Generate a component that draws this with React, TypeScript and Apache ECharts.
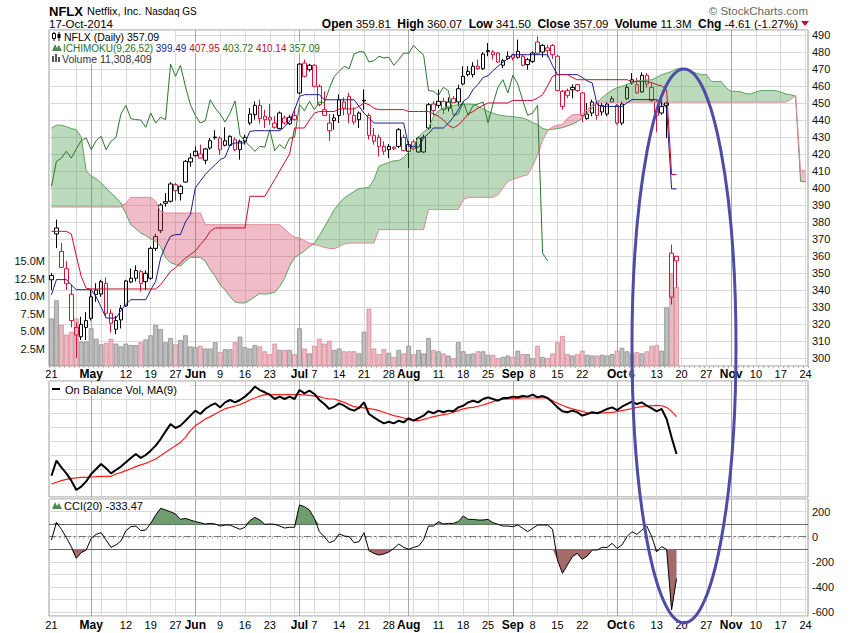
import React, { useEffect, useRef } from 'react';
import * as echarts from 'echarts';

// ---------- trading days (categories) ----------
const aprDays = [21, 22, 23, 24, 25, 28, 29, 30];
const mayDays = [1, 2, 5, 6, 7, 8, 9, 12, 13, 14, 15, 16, 19, 20, 21, 22, 23, 27, 28, 29, 30];
const junDays = [2, 3, 4, 5, 6, 9, 10, 11, 12, 13, 16, 17, 18, 19, 20, 23, 24, 25, 26, 27, 30];
const julDays = [1, 2, 3, 7, 8, 9, 10, 11, 14, 15, 16, 17, 18, 21, 22, 23, 24, 25, 28, 29, 30, 31];
const augDays = [1, 4, 5, 6, 7, 8, 11, 12, 13, 14, 15, 18, 19, 20, 21, 22, 25, 26, 27, 28, 29];
const sepDays = [2, 3, 4, 5, 8, 9, 10, 11, 12, 15, 16, 17, 18, 19, 22, 23, 24, 25, 26, 29, 30];
const octDays = [1, 2, 3, 6, 7, 8, 9, 10, 13, 14, 15, 16, 17, 20, 21, 22, 23, 24, 27, 28, 29, 30, 31];
const novDays = [3, 4, 5, 6, 7, 10, 11, 12, 13, 14, 17, 18, 19, 20, 21, 24];

const tickLabels: [string, string][] = [
  ['2014-04-21', '21'], ['2014-05-01', 'May'], ['2014-05-12', '12'], ['2014-05-19', '19'], ['2014-05-27', '27'],
  ['2014-06-02', 'Jun'], ['2014-06-09', '9'], ['2014-06-16', '16'], ['2014-06-23', '23'],
  ['2014-07-01', 'Jul'], ['2014-07-07', '7'], ['2014-07-14', '14'], ['2014-07-21', '21'], ['2014-07-28', '28'],
  ['2014-08-01', 'Aug'], ['2014-08-11', '11'], ['2014-08-18', '18'], ['2014-08-25', '25'],
  ['2014-09-02', 'Sep'], ['2014-09-08', '8'], ['2014-09-15', '15'], ['2014-09-22', '22'],
  ['2014-10-01', 'Oct'], ['2014-10-06', '6'], ['2014-10-13', '13'], ['2014-10-20', '20'], ['2014-10-27', '27'],
  ['2014-11-03', 'Nov'], ['2014-11-10', '10'], ['2014-11-17', '17'], ['2014-11-24', '24'],
];
const monthNames = ['May', 'Jun', 'Jul', 'Aug', 'Sep', 'Oct', 'Nov'];

// ---------- price (OHLC), Apr 21 .. Oct 17 2014 ----------
const opens = [
  346, 376.5, 362.7, 352.5, 337.5, 318, 312.5, 318, 323.3, 337.4,
  337.6, 343.9, 326.3, 316.9, 322.4, 330.6, 344.7, 346.9, 350.8, 344.9,
  346.9, 364.5, 374.9, 391, 392.2, 402, 396.7, 403.5, 415.3, 419,
  420, 416.3, 423.5, 430, 429.4, 425.1, 425.1, 428.4, 422.5, 427.5,
  438.2, 443.1, 448.6, 442.2, 441.6, 438.2, 434.9, 441.2, 437.8, 442.7,
  455.9, 473.5, 469.6, 472.2, 459.8, 446.1, 433.7, 441.2, 442.7, 450.6,
  453.9, 442.7, 440.2, 451.6, 442.7, 431, 429.8, 424.5, 422.5, 423.1,
  424.5, 429.8, 421.6, 427.1, 421.2, 421.2, 435.3, 449.4, 448.6, 451,
  447, 452.5, 450.6, 461.2, 466.7, 466.7, 471.6, 470.2, 480.8, 478.4,
  479.4, 472.2, 476.1, 478.4, 480.4, 477.5, 472.6, 474.5, 485.9, 480,
  482.4, 483.9, 477.5, 448, 457.3, 457.8, 460.8, 455.9, 440.8, 444.1,
  450, 444.7, 443.5, 452.5, 448.6, 438.2, 452.5, 461.8, 460.8, 456.5,
  466.3, 459.2, 450.6, 448, 450, 335.8, 359.81,
];
const highs = [
  350, 381.4, 367.6, 357, 343, 321, 324.3, 327, 340, 344,
  346, 347.4, 328.6, 324.7, 331.2, 346, 352.7, 354.5, 351.7, 351.5,
  365.5, 373, 391, 397, 403.5, 403, 402, 416.5, 420.5, 424.5,
  425.5, 423.5, 429.4, 434, 430.4, 435.7, 431, 429.8, 428.4, 431.4,
  447, 451, 452, 446, 449.4, 442.2, 445, 442.7, 443, 447,
  473.5, 475.5, 473, 472.8, 461, 456.9, 443.5, 443.5, 455, 453.3,
  455.9, 447.4, 445, 458, 444, 435.3, 431.4, 427.5, 425.9, 424.6,
  435.3, 431.4, 427.5, 428.5, 430.4, 431.4, 450, 451, 457.8, 453,
  453.3, 454, 460.8, 471.6, 471.6, 474, 475.5, 480, 485.3, 481,
  480, 476, 480.4, 479, 487.3, 478.4, 476.5, 480.4, 489.2, 484.7,
  484.4, 484.7, 478.4, 457.8, 458.5, 461, 461.2, 456.5, 450, 452,
  451, 450, 450.6, 454, 449.4, 451, 461, 467.6, 464.7, 468,
  467.6, 461.8, 452, 452, 450.5, 366.7, 360.07,
];
const lows = [
  340, 364.7, 352.9, 340, 318, 300, 310.6, 310.6, 322, 333,
  336, 324.3, 314.9, 314, 317.4, 330, 344, 345, 339, 340,
  346, 363, 373.5, 389, 391.5, 392.6, 392.6, 403, 412.5, 418.5,
  417.3, 414, 422.5, 428.5, 419.6, 424.5, 424.5, 421.6, 416.7, 425.5,
  437, 440.2, 438, 435.3, 437.3, 434.9, 434.5, 437.3, 437, 439.5,
  455, 465, 468.5, 459.2, 448, 442.2, 427.8, 434.3, 438.2, 442.7,
  438.2, 437.3, 435.3, 446.1, 428.5, 425.5, 418.6, 419.5, 417.6, 422.2,
  423.5, 421.6, 411.8, 422, 420.6, 420.6, 434.3, 442.7, 447, 443.5,
  445, 450, 448, 460.4, 465.7, 465, 469.5, 469.5, 477.5, 475.5,
  473.5, 470.5, 475.5, 475, 476.1, 471.6, 469.6, 473.5, 478.8, 476.9,
  476.9, 476, 456.9, 446, 452.9, 452.9, 456.5, 438.8, 440.2, 442.2,
  440.2, 442.7, 442.2, 450, 437.3, 436.9, 452, 460.8, 455.3, 455.9,
  459, 450.6, 432.9, 443.1, 429.4, 331.4, 341.5,
];
const closes = [
  348.5, 373, 353.3, 343.7, 322, 313.5, 319.8, 322, 336, 340,
  344.9, 326.3, 320.4, 322, 329.2, 345.3, 346.9, 351.4, 343.9, 349.8,
  364.5, 371.4, 390, 392, 402.4, 398.4, 401, 415.7, 417.6, 421.6,
  417.6, 423, 427.8, 429.5, 422.5, 427.8, 430.4, 422.5, 427.5, 429.8,
  443.5, 448.6, 440.8, 440.2, 440, 435.7, 444.1, 438.2, 441.6, 440.2,
  472.9, 465.7, 472.2, 459.8, 449, 442.7, 438.2, 439.6, 451.9, 447,
  443.5, 438.8, 444.1, 451.2, 431, 427.5, 424.5, 421.6, 424.5, 424,
  434.3, 422, 425.5, 423.1, 429.4, 429.8, 449, 445.5, 451, 446.1,
  450.6, 450.2, 458.4, 465.7, 468.6, 471.6, 470.2, 478.8, 480.2, 480,
  474.1, 474.9, 477.5, 476.5, 476.9, 472.2, 475.5, 479.4, 479.2, 483.9,
  480.8, 478.4, 457.3, 456.9, 454.5, 459.2, 457.3, 442.7, 443.5, 450.6,
  442.7, 448.6, 449.4, 450.6, 438.2, 449.4, 459.2, 463.7, 455.9, 466.3,
  461.2, 451.4, 442.7, 444.1, 448.6, 361.7, 357.09,
];
// volume, millions of shares
const volumes = [
  6.8, 9.4, 5.9, 4.5, 4.9, 6.8, 3.5, 3.5, 5.4, 3.9,
  3.1, 3.3, 3.9, 3.2, 2.8, 3.2, 3.0, 3.0, 3.4, 3.8,
  4.4, 5.9, 5.3, 3.4, 4.0, 3.1, 3.7, 4.4, 2.8, 2.7,
  2.9, 2.5, 2.5, 3.4, 2.0, 2.4, 2.4, 3.4, 4.2, 2.7,
  2.5, 3.0, 2.8, 2.1, 1.7, 3.2, 2.3, 2.3, 2.3, 1.7,
  5.4, 2.5, 1.8, 2.9, 3.9, 3.2, 3.6, 2.3, 2.5, 2.1,
  2.1, 2.1, 1.8, 4.9, 8.2, 2.5, 1.7, 2.4, 1.9, 1.3,
  2.3, 1.8, 2.9, 1.7, 2.3, 1.8, 4.0, 2.3, 2.1, 1.8,
  1.5, 1.1, 3.4, 2.1, 1.7, 1.8, 2.1, 2.1, 1.6, 1.6,
  1.1, 1.3, 1.5, 1.3, 2.2, 1.7, 1.7, 1.1, 2.9, 1.3,
  1.1, 1.8, 3.4, 4.3, 1.7, 1.5, 1.7, 2.2, 1.6, 1.5,
  1.5, 1.6, 1.5, 1.7, 2.2, 2.6, 2.1, 1.8, 2.0, 1.8,
  2.1, 2.9, 3.0, 2.2, 8.4, 13.3, 11.3,
];

// ---------- Ichimoku (9,26,52) ----------
const tenkan = [
  337.2, 346.1, 346.1, 346.1, 343, 340.2, 340.2, 340.2, 340.2, 336,
  330, 323.5, 323.5, 323.5, 328, 331.5, 334.3, 334.3, 334.3, 334.3,
  340, 345.1, 358.8, 366, 371.6, 372.6, 372.6, 380, 384.3, 400,
  404, 407.9, 411, 413.7, 416.7, 418, 425.5, 426.5, 426.5, 426.5,
  433.3, 433.7, 433.7, 433.7, 433.7, 433.7, 433.7, 436, 439.2, 446,
  453.9, 454.9, 454.9, 454.9, 454.9, 451.9, 451.9, 451.9, 451.9, 451.9,
  451.9, 451.9, 448, 444.1, 441, 438.2, 438.2, 438.2, 438.2, 438.2,
  438.2, 438.2, 424.5, 424.5, 423.9, 429.4, 432, 435.3, 435.3, 435.3,
  438, 441.6, 446, 451, 453, 458, 461, 465, 466, 469,
  471.6, 474, 476, 478.4, 478.4, 478.4, 478.4, 478.4, 478.4, 478.4,
  478.4, 472, 466.7, 466.7, 466.7, 466.7, 466.7, 465, 463, 461.8,
  449, 448, 448, 448, 448, 448, 450, 452, 452, 452,
  452, 452, 452, 450, 447, 399.5, 399.49,
];
const kijun = [
  374.5, 374.5, 374.5, 374.5, 373, 360, 348, 341, 340.6, 340.6,
  340.6, 340.6, 340.6, 340.6, 340.6, 340.6, 340.6, 340.6, 340.6, 340.6,
  340.6, 340.6, 343.1, 347, 351, 353, 356, 358.8, 360.8, 363,
  366.7, 370, 374.5, 376.5, 376.5, 376.5, 376.5, 376.5, 376.5, 376.5,
  395.1, 395.1, 395.1, 395.1, 400, 405, 410, 415, 420, 435.3,
  435.3, 435.3, 440, 444.1, 445, 445, 445, 445, 446.5, 446.5,
  446.5, 446.5, 448, 450, 449, 447, 446.1, 446.1, 446.1, 446.1,
  446.1, 446.1, 445, 445, 445, 445, 445, 443.5, 442.2, 440,
  437, 435.3, 437, 440, 443.5, 445, 447, 448.6, 450, 450,
  450, 450, 450, 451.5, 451.5, 451.5, 451.5, 451.5, 453, 454.9,
  460, 465.7, 466.7, 466.7, 466.7, 465, 463.7, 463.7, 463.7, 463.7,
  463.7, 463.7, 463.7, 463.7, 463.7, 463.7, 463.7, 462.7, 462.7, 462.7,
  462.7, 462, 460.8, 460, 457.8, 407.95, 407.95,
];
// Senkou spans, plotted 26 periods ahead (Apr 21 .. Nov 24)
const senkouA = [
  435.3, 436.9, 437, 436, 435, 434.3, 430, 410, 407, 405.5,
  403, 400, 397, 394.5, 391, 385, 378.4, 376, 373.5, 372,
  370, 368.6, 365.7, 359, 356, 355, 354, 357, 359.2, 359.2,
  359.2, 356.9, 352, 348, 343, 340, 336, 333, 332.4, 332.4,
  334, 336, 338, 337.5, 338, 338.5, 342, 347, 354, 359,
  361, 363, 365.5, 367.6, 372, 377, 382, 387.3, 391, 394.1,
  396, 398, 399.6, 400, 400.3, 405, 412.7, 414, 415, 416,
  416.1, 418, 421, 425, 430, 433, 435.3, 442, 445.5, 447,
  448, 448.5, 449, 449.2, 449.4, 449.2, 448, 446.5, 445, 444,
  443, 442.5, 442.2, 442, 441.5, 441.2, 440, 438.5, 437.3, 435,
  434.3, 434.5, 435, 435.5, 436.5, 437.5, 439, 441, 444, 447,
  450.5, 453, 455.5, 457.5, 459, 459.8, 461, 462, 463, 463.3,
  463.5, 463.7, 465, 466.7, 467.5, 468.6, 470, 470.6, 469.5, 468.6,
  467.5, 466.7, 466.7, 462.7, 462.7, 462.7, 459, 456.9, 456.9, 456.5,
  455.5, 455.3, 456.5, 457.3, 457.3, 457.3, 457.3, 456.5, 455.3, 454.9,
  453.9, 403.9, 403.72,
];
const senkouB = [
  388.8, 388.8, 388.8, 388.8, 388.8, 388.8, 388.8, 388.8, 388.8, 388.8,
  388.8, 388.8, 388.8, 388.8, 388.8, 391, 394.5, 394.5, 394.5, 394.5,
  394.5, 392.2, 386, 385.3, 385.3, 385.3, 385.3, 385.3, 385.3, 385.3,
  385.3, 378.4, 378.4, 378.4, 378.4, 378.4, 378.4, 378.4, 378.4, 378.4,
  378.4, 378.4, 378.4, 378.4, 378.4, 378.4, 378.4, 376, 373, 371,
  370.6, 369, 367.5, 366.7, 366, 365, 364.5, 364.3, 365.5, 367.1,
  367.6, 367.6, 367.6, 367.6, 367.6, 367.6, 375.5, 375.5, 375.5, 375.5,
  375.5, 375.5, 375.5, 375.5, 375.5, 375.5, 387.3, 387.3, 387.3, 387.3,
  387.3, 387.3, 387.3, 393.1, 394.5, 394.5, 394.5, 394.5, 394.5, 394.5,
  396.1, 400, 403.9, 405, 406, 407, 407.8, 413, 419.6, 428,
  433.5, 436, 437, 437.3, 441, 443.1, 443.1, 443.5, 446, 449,
  450.5, 450.5, 450.5, 450.5, 450.5, 450.5, 450.5, 450.5, 450.5, 450.5,
  450.5, 450.5, 450.5, 450.5, 450.5, 450.5, 450.5, 450.5, 450.5, 450.5,
  450.5, 450.5, 450.5, 450.5, 450.5, 450.5, 450.5, 450.5, 450.5, 450.5,
  450.5, 450.5, 450.5, 450.5, 450.5, 450.5, 450.5, 450.5, 450.5, 452,
  454.5, 410.1, 410.14,
];

// ---------- On Balance Volume (millions, relative) and its MA(9) ----------
const obv = [
  15.2, 26.0, 21.2, 16.9, 11.7, 5.0, 7.4, 11.2, 16.4, 20.0,
  23.6, 20.5, 16.9, 19.3, 21.7, 24.8, 27.9, 30.7, 27.9, 30.0,
  33.1, 36.7, 41.4, 46.9, 52.1, 49.3, 51.0, 54.5, 58.1, 61.7,
  59.3, 62.9, 65.2, 66.9, 64.0, 67.6, 69.3, 67.6, 69.3, 71.7,
  74.8, 78.8, 76.4, 74.8, 73.1, 70.0, 71.7, 70.0, 71.7, 70.0,
  76.4, 74.0, 76.0, 73.6, 69.3, 66.4, 62.9, 64.5, 66.9, 65.2,
  62.9, 61.7, 63.6, 67.6, 59.3, 56.9, 54.5, 52.6, 53.8, 52.6,
  54.5, 53.3, 56.2, 54.5, 56.4, 58.1, 61.2, 59.8, 61.7, 60.5,
  61.7, 61.2, 64.0, 65.2, 67.6, 68.8, 67.6, 70.0, 71.2, 70.0,
  68.8, 70.7, 70.7, 71.7, 71.2, 72.1, 71.7, 73.1, 71.2, 72.1,
  70.7, 67.6, 64.0, 61.2, 60.5, 61.7, 60.5, 58.1, 59.3, 60.5,
  59.8, 61.2, 62.9, 64.0, 62.1, 64.5, 66.4, 68.1, 66.4, 67.6,
  65.2, 63.3, 61.2, 62.9, 55.7, 42.6, 30.7,
];
const obvMA = [
  9.3, 10.5, 11.7, 12.6, 13.3, 13.6, 14.0, 14.0, 14.3, 14.5,
  14.8, 14.8, 14.8, 16.4, 17.4, 18.8, 20.2, 21.7, 22.9, 24.0,
  25.5, 27.1, 29.5, 31.9, 34.3, 36.7, 39.0, 42.6, 47.4, 51.0,
  53.3, 55.7, 57.4, 59.3, 61.2, 63.1, 64.0, 65.0, 66.0, 67.6,
  69.3, 70.7, 72.1, 73.1, 73.1, 73.1, 73.1, 73.1, 73.1, 73.1,
  73.1, 72.9, 72.6, 72.1, 71.7, 70.7, 70.0, 70.0, 68.8, 67.6,
  66.0, 64.5, 64.0, 63.6, 63.1, 62.6, 61.7, 60.5, 59.3, 58.1,
  57.4, 56.4, 55.5, 54.5, 54.5, 55.5, 56.4, 57.4, 58.1, 58.8,
  59.3, 60.5, 61.7, 62.9, 63.6, 64.0, 64.8, 65.7, 66.9, 68.1,
  69.3, 69.8, 70.0, 70.2, 70.5, 70.7, 70.7, 70.7, 70.7, 70.7,
  70.7, 68.8, 66.9, 65.5, 64.0, 62.9, 62.1, 61.2, 60.2, 59.8,
  59.8, 60.0, 60.2, 60.5, 61.0, 61.7, 62.4, 63.1, 64.0, 64.5,
  65.0, 65.2, 65.5, 65.2, 64.0, 61.2, 57.4,
];

// ---------- CCI(20) ----------
const cci = [
  -26, 114, 59, -8, -79, -172, -127, -106, -13, 19,
  32, -26, -85, -66, -34, 48, 80, 85, 48, 53,
  106, 173, 226, 213, 199, 181, 138, 146, 133, 120,
  112, 101, 106, 101, 85, 93, 93, 75, 59, 75,
  128, 154, 133, 99, 101, 99, 85, 69, 75, 75,
  253, 239, 213, 146, 40, 0, -48, -32, 22, 6,
  0, -48, -40, 32, -111, -133, -146, -138, -122, -93,
  -58, -85, -101, -85, -74, -26, 85, 85, 120, 101,
  106, 106, 120, 165, 138, 138, 133, 133, 138, 112,
  99, 85, 85, 80, 93, 67, 40, 67, 93, 93,
  93, 59, -186, -292, -226, -159, -133, -180, -154, -106,
  -106, -85, -85, -53, -93, -66, 0, 40, 19, 53,
  85, 0, -119, -79, -101, -584, -333.47,
];

// ---------- rendering ----------
const F = '"Liberation Sans", Arial, sans-serif';
const RED = '#d2143c';
const BLACK = '#000000';

const categories: string[] = [];
([
  ['2014-04', aprDays], ['2014-05', mayDays], ['2014-06', junDays], ['2014-07', julDays],
  ['2014-08', augDays], ['2014-09', sepDays], ['2014-10', octDays], ['2014-11', novDays],
] as [string, number[]][]).forEach(([m, days]) =>
  days.forEach((d) => categories.push(`${m}-${String(d).padStart(2, '0')}`))
);

const tickMap = new Map<string, string>(tickLabels);

const weekStarts: string[] = [];
const monthStarts: string[] = [];
categories.forEach((c, i) => {
  if (i === 0) return;
  const prev = categories[i - 1];
  if (c.slice(0, 7) !== prev.slice(0, 7)) {
    monthStarts.push(c);
    return;
  }
  const d = new Date(c + 'T00:00:00Z').getUTCDay();
  const p = new Date(prev + 'T00:00:00Z').getUTCDay();
  if (d <= p) weekStarts.push(c);
});

const verticalLines = () => [
  ...weekStarts.map((c) => ({ xAxis: c, lineStyle: { color: '#dadada', width: 1, type: 'solid' } })),
  ...monthStarts.map((c) => ({ xAxis: c, lineStyle: { color: '#a6a6a6', width: 1, type: 'solid' } })),
];
const markBase = {
  silent: true,
  symbol: ['none', 'none'],
  label: { show: false },
  z: 1,
  animation: false,
  emphasis: { disabled: true },
};

const isDown = (i: number) => i > 0 && closes[i] < closes[i - 1];

const candleItems = opens.map((o, i) => {
  const col = isDown(i) ? RED : BLACK;
  return {
    value: [o, closes[i], lows[i], highs[i]],
    itemStyle: {
      color: 'rgba(255,255,255,0)',
      color0: col,
      borderColor: col,
      borderColor0: col,
      borderColorDoji: col,
      borderWidth: 1,
    },
  };
});

const volItems = volumes.map((v, i) => ({
  value: v,
  itemStyle: isDown(i)
    ? { color: '#ebbac2', borderColor: '#d88a97', borderWidth: 0.8 }
    : { color: '#bebebe', borderColor: '#8e8e8e', borderWidth: 0.8 },
}));

const cloudBase = senkouA.map((a, i) => Math.min(a, senkouB[i]));
const cloudGreen = senkouA.map((a, i) => Math.max(a - senkouB[i], 0));
const cloudRed = senkouA.map((a, i) => Math.max(senkouB[i] - a, 0));
const chikou = closes.slice(26);

const cciUpBase = cci.map(() => 100);
const cciUp = cci.map((v) => Math.max(v - 100, 0));
const cciDnBase = cci.map(() => -100);
const cciDn = cci.map((v) => Math.min(v + 100, 0));

const lineS = (data: number[], color: string, width: number, xi: number, yi: number, z: number, extra: any = {}) => ({
  type: 'line',
  xAxisIndex: xi,
  yAxisIndex: yi,
  data,
  symbol: 'none',
  showSymbol: false,
  silent: true,
  z,
  lineStyle: { color, width },
  ...extra,
});

const makeX = (gridIndex: number, labels: boolean, margin: number) => ({
  type: 'category',
  gridIndex,
  data: categories,
  boundaryGap: true,
  axisLine: { show: false },
  axisTick: { show: labels, interval: 0, length: 2, lineStyle: { color: '#b4b4b4' } },
  splitLine: { show: false },
  axisLabel: labels
    ? {
        show: true,
        interval: (_i: number, v: string) => tickMap.has(v),
        formatter: (v: string) => {
          const t = tickMap.get(v) || '';
          return monthNames.includes(t) ? `{m|${t}}` : `{d|${t}}`;
        },
        margin,
        rich: {
          m: { fontFamily: F, fontWeight: 'bold', fontSize: 12, color: '#000' },
          d: { fontFamily: F, fontSize: 11, color: '#000' },
        },
      }
    : { show: false },
});

const hLine = (y: number, dash: any, color: string) => ({
  yAxis: y,
  lineStyle: { color, width: 1, type: dash },
});

const icoMountain = (x: number, y: number, color: string) => ({
  type: 'polygon',
  z: 100,
  shape: { points: [[x, y + 8], [x + 3, y + 1], [x + 5, y + 5], [x + 7, y + 2], [x + 10, y + 8]] },
  style: { fill: color },
});

const option: any = {
  animation: false,
  backgroundColor: '#ffffff',
  grid: [
    { left: 49, right: 42, top: 30, height: 336, show: true, borderColor: '#999', borderWidth: 1, backgroundColor: 'transparent' },
    { left: 49, right: 42, top: 381, height: 116, show: true, borderColor: '#999', borderWidth: 1, backgroundColor: 'transparent' },
    { left: 49, right: 42, top: 499, height: 117, show: true, borderColor: '#999', borderWidth: 1, backgroundColor: 'transparent' },
  ],
  xAxis: [makeX(0, true, 2), makeX(1, false, 2), makeX(2, true, 3)],
  yAxis: [
    {
      type: 'value', gridIndex: 0, position: 'right', min: 295.29, max: 492.94, splitNumber: 20,
      axisLine: { show: false }, axisTick: { show: false },
      splitLine: { show: true, lineStyle: { color: '#dadada', width: 1 } },
      axisLabel: { showMinLabel: false, showMaxLabel: false, fontFamily: F, fontSize: 11, color: '#111', margin: 4 },
    },
    {
      type: 'value', gridIndex: 0, position: 'left', min: 0, max: 48.1, interval: 2.5,
      axisLine: { show: false }, axisTick: { show: false }, splitLine: { show: false },
      axisLabel: {
        fontFamily: F, fontSize: 11, color: '#111', margin: 4,
        formatter: (v: number) => (v > 0 && v <= 15.01 ? v.toFixed(1) + 'M' : ''),
      },
    },
    {
      type: 'value', gridIndex: 1, min: 0, max: 82.86, interval: 10,
      axisLine: { show: false }, axisTick: { show: false }, axisLabel: { show: false },
      splitLine: { show: true, lineStyle: { color: '#dadada', width: 1 } },
    },
    {
      type: 'value', gridIndex: 2, position: 'right', min: -631.9, max: 300.4, splitNumber: 9,
      axisLine: { show: false }, axisTick: { show: false },
      splitLine: { show: true, lineStyle: { color: '#dadada', width: 1 } },
      axisLabel: {
        showMinLabel: false, showMaxLabel: false, fontFamily: F, fontSize: 11, color: '#111', margin: 4,
        formatter: (v: number) => (Math.abs(Math.round(v) % 200) === 0 ? String(Math.round(v)) : ''),
      },
    },
  ],
  series: [
    {
      type: 'bar', xAxisIndex: 0, yAxisIndex: 1, data: volItems, barWidth: '96%', z: 2, silent: true,
      markLine: { ...markBase, data: verticalLines() },
    },
    { type: 'candlestick', xAxisIndex: 0, yAxisIndex: 0, data: candleItems, barWidth: 4, z: 3, silent: true },
    lineS(cloudBase, 'rgba(0,0,0,0)', 0, 0, 0, 4, { stack: 'cloud', stackStrategy: 'all', lineStyle: { width: 0, opacity: 0 } }),
    lineS(cloudGreen, 'rgba(0,0,0,0)', 0, 0, 0, 4, {
      stack: 'cloud', stackStrategy: 'all', lineStyle: { width: 0, opacity: 0 },
      areaStyle: { color: 'rgba(60,150,60,0.35)', opacity: 1 },
    }),
    lineS(cloudRed, 'rgba(0,0,0,0)', 0, 0, 0, 4, {
      stack: 'cloud', stackStrategy: 'all', lineStyle: { width: 0, opacity: 0 },
      areaStyle: { color: 'rgba(212,60,92,0.34)', opacity: 1 },
    }),
    lineS(senkouA, '#5aa35a', 1, 0, 0, 5),
    lineS(senkouB, '#e48595', 1, 0, 0, 5),
    lineS(chikou, '#2a772a', 1, 0, 0, 6),
    lineS(tenkan, '#1c1c92', 1, 0, 0, 6),
    lineS(kijun, '#cc0a30', 1, 0, 0, 6),
    // OBV panel
    lineS(obvMA, '#ff1c1c', 1.2, 1, 2, 3, { markLine: { ...markBase, data: verticalLines() } }),
    lineS(obv, '#000000', 2, 1, 2, 4),
    // CCI panel
    lineS(cciUpBase, 'rgba(0,0,0,0)', 0, 2, 3, 3, { stack: 'cciUp', stackStrategy: 'all', lineStyle: { width: 0, opacity: 0 } }),
    lineS(cciUp, 'rgba(0,0,0,0)', 0, 2, 3, 3, {
      stack: 'cciUp', stackStrategy: 'all', lineStyle: { width: 0, opacity: 0 },
      areaStyle: { color: '#6f9d6f', opacity: 1 },
    }),
    lineS(cciDnBase, 'rgba(0,0,0,0)', 0, 2, 3, 3, { stack: 'cciDn', stackStrategy: 'all', lineStyle: { width: 0, opacity: 0 } }),
    lineS(cciDn, 'rgba(0,0,0,0)', 0, 2, 3, 3, {
      stack: 'cciDn', stackStrategy: 'all', lineStyle: { width: 0, opacity: 0 },
      areaStyle: { color: '#a56b6b', opacity: 1 },
    }),
    lineS(cci, '#000000', 1, 2, 3, 5, {
      markLine: {
        ...markBase,
        data: [
          ...verticalLines(),
          hLine(100, 'solid', '#666'),
          hLine(-100, 'solid', '#666'),
          hLine(0, [7, 3, 2, 3], '#777'),
        ],
      },
    }),
  ],
  graphic: [
    // header
    { type: 'text', z: 100, x: 49, y: 11, style: { text: 'NFLX', fontFamily: F, fontSize: 13, fontWeight: 'bold', fill: '#000', verticalAlign: 'middle' } },
    { type: 'text', z: 100, x: 87, y: 11, style: { text: 'Netflix, Inc.', fontFamily: F, fontSize: 11, fill: '#000', verticalAlign: 'middle' } },
    { type: 'text', z: 100, x: 145, y: 11.5, style: { text: 'Nasdaq GS', fontFamily: F, fontSize: 10, fill: '#000', verticalAlign: 'middle' } },
    { type: 'text', z: 100, x: 49, y: 23.5, style: { text: '17-Oct-2014', fontFamily: F, fontSize: 11.5, fill: '#000', verticalAlign: 'middle' } },
    {
      type: 'text', z: 100, x: 798, y: 23.5,
      style: {
        text: '{b|Open} 359.81  {b|High} 360.07  {b|Low} 341.50  {b|Close} 357.09  {b|Volume} 11.3M  {b|Chg} -4.61 (-1.27%)',
        fontFamily: F, fontSize: 11.5, fill: '#000', align: 'right', verticalAlign: 'middle',
        rich: { b: { fontFamily: F, fontSize: 12, fontWeight: 'bold', fill: '#000', color: '#000' } },
      },
    },
    { type: 'polygon', z: 100, shape: { points: [[801, 21], [809, 21], [805, 26]] }, style: { fill: '#c0102f' } },
    { type: 'text', z: 100, x: 808, y: 11, style: { text: '© StockCharts.com', fontFamily: F, fontSize: 11.5, fill: '#666', align: 'right', verticalAlign: 'middle' } },

    // price-panel legend
    { type: 'rect', z: 99, shape: { x: 50, y: 31, width: 124, height: 11 }, style: { fill: '#fff' } },
    { type: 'rect', z: 99, shape: { x: 50, y: 42, width: 260, height: 11 }, style: { fill: '#fff' } },
    { type: 'rect', z: 99, shape: { x: 50, y: 53, width: 96, height: 11 }, style: { fill: '#fff' } },
    { type: 'line', z: 100, shape: { x1: 54, y1: 32, x2: 54, y2: 41 }, style: { stroke: '#000', lineWidth: 1 } },
    { type: 'rect', z: 100, shape: { x: 52.5, y: 33.5, width: 3, height: 5 }, style: { fill: '#fff', stroke: '#000', lineWidth: 1 } },
    { type: 'line', z: 100, shape: { x1: 59, y1: 32, x2: 59, y2: 41 }, style: { stroke: '#000', lineWidth: 1 } },
    { type: 'rect', z: 100, shape: { x: 57.5, y: 34, width: 3, height: 4 }, style: { fill: '#000' } },
    { type: 'text', z: 100, x: 64, y: 37, style: { text: 'NFLX (Daily) 357.09', fontFamily: F, fontSize: 10.5, fill: '#000', verticalAlign: 'middle' } },
    icoMountain(52, 43, '#4c8c4c'),
    {
      type: 'text', z: 100, x: 63, y: 48,
      style: {
        text: '{g|ICHIMOKU(9,26,52)} {n|399.49} {r|407.95} {g|403.72} {r|410.14} {g|357.09}',
        fontFamily: F, fontSize: 10, fill: '#000', verticalAlign: 'middle',
        rich: {
          g: { fill: '#1e721e', color: '#1e721e', fontFamily: F, fontSize: 10 },
          n: { fill: '#1c1c92', color: '#1c1c92', fontFamily: F, fontSize: 10 },
          r: { fill: '#cc0a30', color: '#cc0a30', fontFamily: F, fontSize: 10 },
        },
      },
    },
    { type: 'rect', z: 100, shape: { x: 52, y: 56, width: 2, height: 6 }, style: { fill: '#555' } },
    { type: 'rect', z: 100, shape: { x: 55, y: 54, width: 2, height: 8 }, style: { fill: '#555' } },
    { type: 'rect', z: 100, shape: { x: 58, y: 57, width: 2, height: 5 }, style: { fill: '#555' } },
    { type: 'text', z: 100, x: 62, y: 58.5, style: { text: 'Volume 11,308,409', fontFamily: F, fontSize: 10.5, fill: '#333', verticalAlign: 'middle' } },

    // OBV legend
    { type: 'rect', z: 99, shape: { x: 50, y: 383, width: 140, height: 12 }, style: { fill: '#fff' } },
    { type: 'line', z: 100, shape: { x1: 52, y1: 389, x2: 60, y2: 389 }, style: { stroke: '#000', lineWidth: 2 } },
    { type: 'text', z: 100, x: 65, y: 389.5, style: { text: 'On Balance Vol, MA(9)', fontFamily: F, fontSize: 11, fill: '#000', verticalAlign: 'middle' } },

    // CCI legend
    { type: 'rect', z: 99, shape: { x: 50, y: 500, width: 108, height: 11 }, style: { fill: '#fff' } },
    icoMountain(52, 501, '#4c8c4c'),
    { type: 'text', z: 100, x: 64, y: 505.5, style: { text: 'CCI(20) -333.47', fontFamily: F, fontSize: 11, fill: '#000', verticalAlign: 'middle' } },

    // hand-drawn annotation ellipse
    {
      type: 'ellipse', z: 200,
      shape: { cx: 684, cy: 346, rx: 52, ry: 277 },
      style: { fill: 'none', stroke: '#4d4da8', lineWidth: 3 },
    },
  ],
};

export default function App() {
  const ref = useRef<HTMLDivElement>(null);
  useEffect(() => {
    if (!ref.current) return;
    const chart = echarts.init(ref.current, null, { renderer: 'svg' });
    chart.setOption(option);
    return () => chart.dispose();
  }, []);
  return (
    <div
      ref={ref}
      style={{ position: 'fixed', left: 0, top: 0, width: 850, height: 633, background: '#fff' }}
    />
  );
}
